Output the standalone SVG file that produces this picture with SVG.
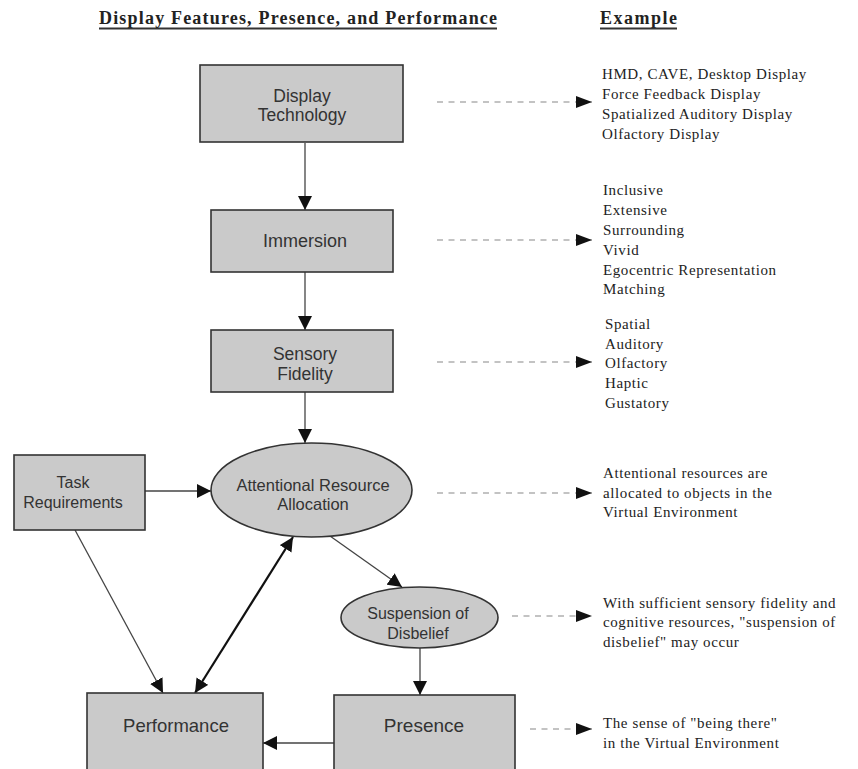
<svg xmlns="http://www.w3.org/2000/svg" width="858" height="769" viewBox="0 0 858 769">
<defs>
<marker id="ah" markerUnits="userSpaceOnUse" markerWidth="14" markerHeight="14" refX="14" refY="7" orient="auto-start-reverse"><path d="M0,0 L14,7 L0,14 z" fill="#111"/></marker>
<marker id="dh" markerUnits="userSpaceOnUse" markerWidth="16" markerHeight="12" refX="16" refY="6" orient="auto"><path d="M0,0 L16,6 L0,12 z" fill="#111"/></marker>
</defs>
<style>
.box{fill:#cacaca;stroke:#333;stroke-width:1.6}
.nt{font-family:"Liberation Sans",Arial,sans-serif;fill:#333;text-anchor:middle}
.ex{font-family:"Liberation Serif","Times New Roman",serif;font-size:15px;fill:#222;letter-spacing:0.6px}
.hd{font-family:"Liberation Serif","Times New Roman",serif;font-weight:bold;fill:#222}
.c{stroke:#444;stroke-width:1.3;fill:none;marker-end:url(#ah)}
.d{stroke:#888;stroke-width:1.2;stroke-dasharray:6 5.5;fill:none;marker-end:url(#dh)}
</style>
<rect width="858" height="769" fill="#fff"/>
<g id="headers">
<text class="hd" x="99" y="24" font-size="18" textLength="398" lengthAdjust="spacing">Display Features, Presence, and Performance</text>
<line x1="99" y1="28.5" x2="497" y2="28.5" stroke="#333" stroke-width="2"/>
<text class="hd" x="600" y="24" font-size="18" textLength="77" lengthAdjust="spacing">Example</text>
<line x1="600" y1="28.5" x2="677" y2="28.5" stroke="#333" stroke-width="2"/>
</g>
<g id="connectors">
<line class="c" x1="305" y1="143" x2="305" y2="210"/>
<line class="c" x1="305" y1="272" x2="305" y2="330"/>
<line class="c" x1="305" y1="392" x2="305" y2="443"/>
<line class="c" x1="145" y1="491" x2="211" y2="491"/>
<line class="c" x1="75" y1="530" x2="163" y2="693" stroke="#666" stroke-width="1"/>
<line x1="293" y1="537" x2="195" y2="693" stroke="#111" stroke-width="2.2" marker-start="url(#ah)" marker-end="url(#ah)"/>
<line class="c" x1="330" y1="536" x2="402" y2="587"/>
<line class="c" x1="420" y1="648" x2="420" y2="695"/>
<line class="c" x1="334" y1="743" x2="263" y2="743" stroke="#777"/>
<line class="d" x1="437" y1="102" x2="592" y2="102"/>
<line class="d" x1="437" y1="240" x2="592" y2="240"/>
<line class="d" x1="437" y1="362" x2="592" y2="362"/>
<line class="d" x1="437" y1="493" x2="592" y2="493"/>
<line class="d" x1="512" y1="616" x2="592" y2="616"/>
<line class="d" x1="530" y1="729" x2="592" y2="729"/>
</g>
<g id="display-technology">
<rect class="box" x="200" y="65" width="203" height="77"/>
<text class="nt" x="302" y="102" font-size="17.5">Display</text>
<text class="nt" x="302" y="121" font-size="17.5">Technology</text>
</g>
<g id="immersion">
<rect class="box" x="211" y="210" width="182" height="62"/>
<text class="nt" x="305" y="247" font-size="18">Immersion</text>
</g>
<g id="sensory-fidelity">
<rect class="box" x="211" y="330" width="182" height="62"/>
<text class="nt" x="305" y="360" font-size="17.5">Sensory</text>
<text class="nt" x="305" y="380" font-size="17.5">Fidelity</text>
</g>
<g id="task-requirements">
<rect class="box" x="14" y="455" width="131" height="75"/>
<text class="nt" x="73" y="488" font-size="16">Task</text>
<text class="nt" x="73" y="508" font-size="16">Requirements</text>
</g>
<g id="attentional-resource-allocation">
<ellipse class="box" cx="311.5" cy="490" rx="100.5" ry="47"/>
<text class="nt" x="313" y="491" font-size="16.5">Attentional Resource</text>
<text class="nt" x="313" y="510" font-size="16.5">Allocation</text>
</g>
<g id="suspension-of-disbelief">
<ellipse class="box" cx="419.5" cy="617.5" rx="78.5" ry="30.5"/>
<text class="nt" x="418" y="619" font-size="16">Suspension of</text>
<text class="nt" x="418" y="639" font-size="16">Disbelief</text>
</g>
<g id="performance">
<rect class="box" x="87" y="693" width="176" height="90"/>
<text class="nt" x="176" y="732" font-size="18.5">Performance</text>
</g>
<g id="presence">
<rect class="box" x="334" y="695" width="181" height="90"/>
<text class="nt" x="424" y="732" font-size="19">Presence</text>
</g>
<g id="examples">
<text class="ex" x="602" y="79">HMD, CAVE, Desktop Display</text>
<text class="ex" x="602" y="99">Force Feedback Display</text>
<text class="ex" x="602" y="119">Spatialized Auditory Display</text>
<text class="ex" x="602" y="139">Olfactory Display</text>
<text class="ex" x="603" y="195">Inclusive</text>
<text class="ex" x="603" y="215">Extensive</text>
<text class="ex" x="603" y="235">Surrounding</text>
<text class="ex" x="603" y="255">Vivid</text>
<text class="ex" x="603" y="275">Egocentric Representation</text>
<text class="ex" x="603" y="294">Matching</text>
<text class="ex" x="605" y="329">Spatial</text>
<text class="ex" x="605" y="349">Auditory</text>
<text class="ex" x="605" y="368">Olfactory</text>
<text class="ex" x="605" y="388">Haptic</text>
<text class="ex" x="605" y="408">Gustatory</text>
<text class="ex" x="603" y="478">Attentional resources are</text>
<text class="ex" x="603" y="498">allocated to objects in the</text>
<text class="ex" x="603" y="517">Virtual Environment</text>
<text class="ex" x="603" y="608">With sufficient sensory fidelity and</text>
<text class="ex" x="603" y="627">cognitive resources, "suspension of</text>
<text class="ex" x="603" y="647">disbelief" may occur</text>
<text class="ex" x="603" y="728">The sense of "being there"</text>
<text class="ex" x="603" y="748">in the Virtual Environment</text>
</g>
</svg>
